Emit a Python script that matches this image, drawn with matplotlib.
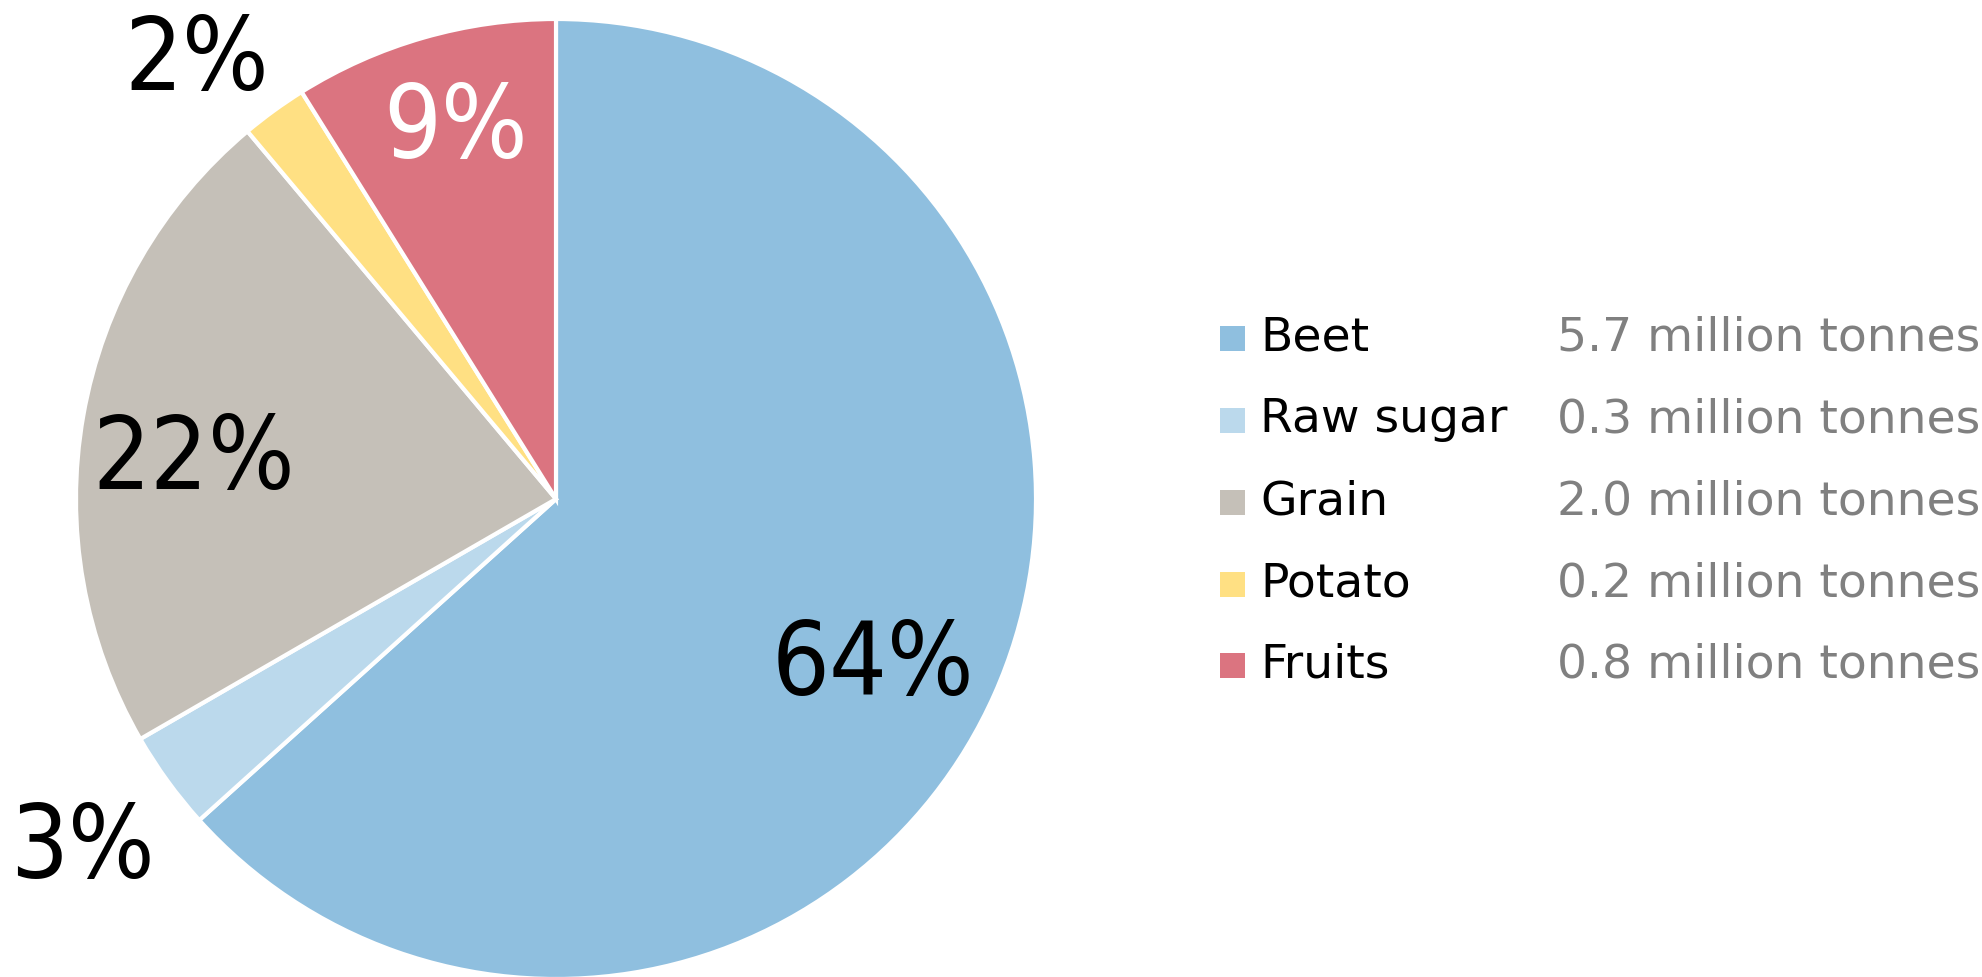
import matplotlib
matplotlib.use("Agg")
import matplotlib.pyplot as plt
import numpy as np

categories = ["Beet", "Raw sugar", "Grain", "Potato", "Fruits"]
values = [5.7, 0.3, 2.0, 0.2, 0.8]
pct_labels = ["64%", "3%", "22%", "2%", "9%"]
value_labels = ["5.7 million tonnes", "0.3 million tonnes", "2.0 million tonnes",
                "0.2 million tonnes", "0.8 million tonnes"]
colors = ["#8FBFDF", "#BBD9EC", "#C5C0B8", "#FFE083", "#DB7480"]
label_dist = [0.74, 1.22, 0.76, 1.19, 0.81]
label_shift = [-3, 0, 3, 3, -1]
label_colors = ["black", "black", "black", "black", "white"]

plt.rcParams['font.family'] = ['DejaVu Sans']
W, H = 1982, 977
fig = plt.figure(figsize=(W / 100, H / 100), dpi=100)

cx, cy, r = 556, 499, 480
ax = fig.add_axes([(cx - r) / W, (H - cy - r) / H, 2 * r / W, 2 * r / H])
wedges, _ = ax.pie(values, colors=colors, startangle=90, counterclock=False,
                   wedgeprops=dict(edgecolor="white", linewidth=3))
ax.set_xlim(-1, 1)
ax.set_ylim(-1, 1)
ax.set_aspect("equal")
ax.axis("off")

for w, lab, d, s, c in zip(wedges, pct_labels, label_dist, label_shift, label_colors):
    ang = np.deg2rad((w.theta1 + w.theta2) / 2 + s)
    ax.annotate(lab, (d * np.cos(ang), d * np.sin(ang)), xytext=(0, -5),
                textcoords="offset points", ha="center", va="center",
                fontsize=73, color=c, fontstretch="condensed",
                annotation_clip=False)

# legend
lax = fig.add_axes([0, 0, 1, 1])
lax.set_xlim(0, W)
lax.set_ylim(H, 0)
lax.axis("off")
rows_y = [338, 420, 502, 584, 665]
for i, (cat, val, col) in enumerate(zip(categories, value_labels, colors)):
    y = rows_y[i]
    lax.add_patch(plt.Rectangle((1220, y - 12), 25, 25, color=col, lw=0))
    lax.text(1260, y, cat, ha="left", va="center", fontsize=34,
             color="black")
    lax.text(1980, y, val, ha="right", va="center", fontsize=34,
             color="#808080")

fig.savefig("out.png", dpi=100)
